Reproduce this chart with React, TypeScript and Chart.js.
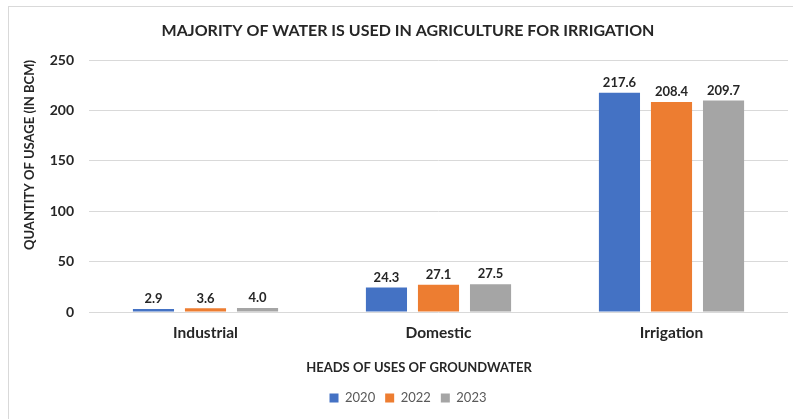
import React, { useEffect, useRef } from "react";
import { Chart, registerables } from "chart.js";

Chart.register(...registerables);

const categories = ["Industrial", "Domestic", "Irrigation"];
const seriesLabels = ["2020", "2022", "2023"];
const values2020 = [2.9, 24.3, 217.6];
const values2022 = [3.6, 27.1, 208.4];
const values2023 = [4.0, 27.5, 209.7];
const seriesColors = ["#4472C4", "#ED7D31", "#A5A5A5"];
const titleText = "MAJORITY OF WATER IS USED IN AGRICULTURE FOR IRRIGATION";
const xTitleText = "HEADS OF USES OF GROUNDWATER";
const yTitleText = "QUANTITY OF USAGE (IN BCM)";
const yMax = 250;
const yStep = 50;

const FONT = "Lato, 'Open Sans', sans-serif";

const labelPlugin = {
  id: "barLabels",
  afterDatasetsDraw(chart: any) {
    const ctx = chart.ctx;
    ctx.save();
    ctx.font = `bold 13px ${FONT}`;
    ctx.fillStyle = "#262626";
    ctx.textAlign = "center";
    ctx.textBaseline = "middle";
    chart.data.datasets.forEach((ds: any, di: number) => {
      const meta = chart.getDatasetMeta(di);
      meta.data.forEach((el: any, i: number) => {
        ctx.fillText(Number(ds.data[i]).toFixed(1), el.x, el.y - 10);
      });
    });
    ctx.restore();
  },
};

const axisTitlePlugin = {
  id: "axisTitles",
  afterDraw(chart: any) {
    const ctx = chart.ctx;
    const area = chart.chartArea;
    ctx.save();
    ctx.font = `bold 13px ${FONT}`;
    ctx.fillStyle = "#262626";
    ctx.textBaseline = "middle";
    ctx.textAlign = "center";
    ctx.fillText(xTitleText, 419, 368);
    ctx.translate(30, area.top);
    ctx.rotate(-Math.PI / 2);
    ctx.textAlign = "right";
    ctx.fillText(yTitleText, 0, 0);
    ctx.restore();
  },
};

export default function App() {
  const ref = useRef<HTMLCanvasElement>(null);
  useEffect(() => {
    if (!ref.current) return;
    const datasets = [values2020, values2022, values2023].map((d, i) => ({
      label: seriesLabels[i],
      data: d,
      backgroundColor: seriesColors[i],
      borderWidth: 0,
      categoryPercentage: 0.67,
      barPercentage: 0.79,
    }));
    const chart = new Chart(ref.current, {
      type: "bar",
      data: { labels: categories, datasets },
      plugins: [labelPlugin, axisTitlePlugin],
      options: {
        animation: false,
        responsive: false,
        devicePixelRatio: 1,
        layout: { padding: { left: 28, right: 5, top: 10, bottom: 4.5 } },
        plugins: {
          title: {
            display: true,
            text: titleText,
            color: "#262626",
            font: { family: FONT, size: 16, weight: "bold", lineHeight: 1.125 },
            padding: { top: 12, bottom: 20 },
          },
          legend: {
            position: "bottom",
            labels: {
              boxWidth: 9,
              boxHeight: 9,
              padding: 10,
              color: "#595959",
              font: { family: FONT, size: 13 },
            },
          },
          tooltip: { enabled: false },
        },
        scales: {
          x: {
            grid: { display: false, drawTicks: false },
            border: { display: false },
            ticks: {
              padding: 12,
              color: "#262626",
              font: { family: FONT, size: 15.5, weight: "bold" },
            },
            afterFit(scale: any) {
              scale.height = 69.5;
            },
          },
          y: {
            min: 0,
            max: yMax,
            ticks: {
              stepSize: yStep,
              padding: 15,
              color: "#262626",
              font: { family: FONT, size: 14, weight: "bold" },
            },
            grid: { color: "#D9D9D9", drawTicks: false, lineWidth: 1 },
            border: { display: false },
            afterFit(scale: any) {
              scale.width = 61;
            },
          },
        },
      },
    } as any);
    return () => chart.destroy();
  }, []);

  return (
    <div
      style={{
        position: "fixed",
        left: 0,
        top: 0,
        width: 793,
        height: 419,
        overflow: "hidden",
        background: "#fff",
      }}
    >
      <div
        style={{
          position: "absolute",
          left: 8,
          top: 6,
          width: 900,
          height: 500,
          border: "1px solid #D9D9D9",
        }}
      />
      <canvas
        ref={ref}
        width={793}
        height={419}
        style={{ position: "absolute", left: 0, top: 0, width: 793, height: 419 }}
      />
    </div>
  );
}
